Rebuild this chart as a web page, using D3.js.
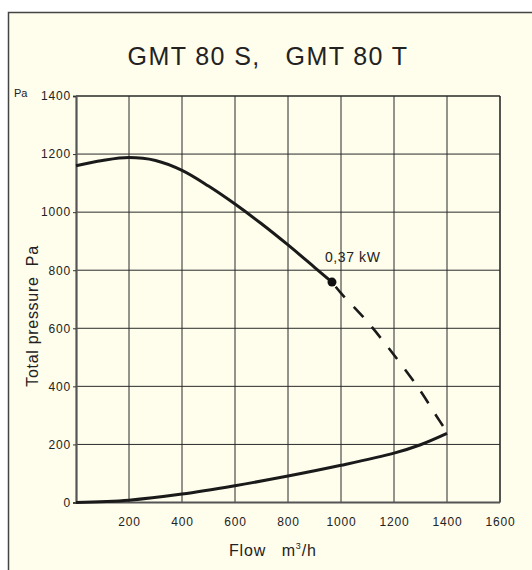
<!DOCTYPE html>
<html>
<head>
<meta charset="utf-8">
<script src="https://cdn.jsdelivr.net/npm/d3@7"></script>
<style>
  html, body { margin: 0; padding: 0; background: #fff; }
  text { font-family: "Liberation Sans", Arial, sans-serif; fill: #222; }
</style>
</head>
<body>
<div id="chart"></div>
<script>
// data
const title = 'GMT 80 S,   GMT 80 T';
const xTicks = [200, 400, 600, 800, 1000, 1200, 1400, 1600];
const yTicks = [0, 200, 400, 600, 800, 1000, 1200, 1400];
const fanFlow = [0, 100, 200, 300, 400, 500, 600, 700, 800, 900, 966];
const fanPressure = [1160, 1178, 1188, 1178, 1144, 1090, 1028, 960, 887, 810, 759];
const dashFlow = [966, 1000, 1100, 1200, 1300, 1360, 1400];
const dashPressure = [759, 721, 622, 508, 384, 298, 243];
const sysFlow = [0, 200, 400, 600, 800, 1000, 1200, 1300, 1400];
const sysPressure = [0, 8, 29, 58, 91, 128, 170, 199, 238];
const dutyPoint = { flow: 966, pressure: 759, label: '0,37 kW' };

// svg
const svgWidth = 532;
const svgHeight = 570;
const svg = d3.select('#chart')
  .append('svg')
  .attr('width', svgWidth)
  .attr('height', svgHeight);

// frame
svg.append('rect')
  .attr('x', 8.5)
  .attr('y', 12.5)
  .attr('width', 600)
  .attr('height', 600)
  .attr('fill', '#fffdec')
  .attr('stroke', '#444')
  .attr('stroke-width', 1.5);

// scales
const x = d3.scaleLinear().domain([0, 1600]).range([76, 500]);
const y = d3.scaleLinear().domain([0, 1400]).range([502.5, 96]);

// grid
const grid = svg.append('g');
grid.selectAll('.vgrid')
  .data(xTicks)
  .join('line')
  .attr('class', 'vgrid')
  .attr('x1', d => x(d)).attr('x2', d => x(d))
  .attr('y1', y(0)).attr('y2', y(1400))
  .attr('stroke', '#2a2a2a')
  .attr('stroke-width', d => d === 1600 ? 1.6 : 1);
grid.selectAll('.hgrid')
  .data(yTicks)
  .join('line')
  .attr('class', 'hgrid')
  .attr('x1', x(0)).attr('x2', x(1600))
  .attr('y1', d => y(d)).attr('y2', d => y(d))
  .attr('stroke', d => d === 0 ? '#555' : '#2a2a2a')
  .attr('stroke-width', d => d === 0 ? 2 : (d === 1400 ? 1.6 : 1));

// axes
const fmt = d3.format('d');
const yAxis = d3.axisLeft(y)
  .tickValues(yTicks)
  .tickFormat(fmt)
  .tickSize(3)
  .tickPadding(2);
const yAxisG = svg.append('g')
  .attr('transform', `translate(${x(0)},0)`)
  .call(yAxis);
yAxisG.select('.domain')
  .attr('stroke', '#555')
  .attr('stroke-width', 2.2);
yAxisG.selectAll('.tick line').attr('stroke', '#333');
yAxisG.selectAll('.tick text')
  .attr('font-size', 12)
  .attr('letter-spacing', 0.8)
  .style('font-family', '"Liberation Sans", Arial, sans-serif')
  .attr('fill', '#222');

const xAxis = d3.axisBottom(x)
  .tickValues(xTicks)
  .tickFormat(fmt)
  .tickSize(0)
  .tickPadding(15);
const xAxisG = svg.append('g')
  .attr('transform', `translate(0,${y(0)})`)
  .call(xAxis);
xAxisG.select('.domain').remove();
xAxisG.selectAll('.tick text')
  .attr('font-size', 12)
  .attr('letter-spacing', 0.8)
  .style('font-family', '"Liberation Sans", Arial, sans-serif')
  .attr('fill', '#222');

// curves
const line = d3.line()
  .x(d => x(d[0]))
  .y(d => y(d[1]))
  .curve(d3.curveCatmullRom.alpha(0.5));

svg.append('path')
  .attr('d', line(d3.zip(fanFlow, fanPressure)))
  .attr('fill', 'none')
  .attr('stroke', '#1a1a1a')
  .attr('stroke-width', 3);

svg.append('path')
  .attr('d', line(d3.zip(dashFlow, dashPressure)))
  .attr('fill', 'none')
  .attr('stroke', '#1a1a1a')
  .attr('stroke-width', 2.6)
  .attr('stroke-dasharray', '14,13')
  .attr('stroke-dashoffset', -6);

svg.append('path')
  .attr('d', line(d3.zip(sysFlow, sysPressure)))
  .attr('fill', 'none')
  .attr('stroke', '#1a1a1a')
  .attr('stroke-width', 3);

// duty point
svg.append('circle')
  .attr('cx', x(dutyPoint.flow))
  .attr('cy', y(dutyPoint.pressure))
  .attr('r', 4.5)
  .attr('fill', '#111');
svg.append('text')
  .attr('x', x(dutyPoint.flow) - 7)
  .attr('y', y(dutyPoint.pressure) - 20)
  .attr('font-size', 14)
  .attr('letter-spacing', 0.6)
  .text(dutyPoint.label);

// titles
svg.append('text')
  .attr('x', 268)
  .attr('y', 65)
  .attr('text-anchor', 'middle')
  .attr('font-size', 25)
  .attr('letter-spacing', 1.4)
  .style('white-space', 'pre')
  .text(title);

svg.append('text')
  .attr('x', 14)
  .attr('y', 97)
  .attr('font-size', 11)
  .text('Pa');

svg.append('text')
  .attr('transform', `translate(38,316) rotate(-90)`)
  .attr('text-anchor', 'middle')
  .attr('font-size', 16)
  .attr('letter-spacing', 0.7)
  .style('white-space', 'pre')
  .text('Total pressure  Pa');

const xLabel = svg.append('text')
  .attr('x', 229)
  .attr('y', 556)
  .attr('font-size', 16)
  .attr('letter-spacing', 0.8)
  .style('white-space', 'pre');
xLabel.append('tspan').text('Flow   m');
xLabel.append('tspan')
  .attr('font-size', 9)
  .attr('dy', -7)
  .text('3');
xLabel.append('tspan')
  .attr('dy', 7)
  .text('/h');
</script>
</body>
</html>
